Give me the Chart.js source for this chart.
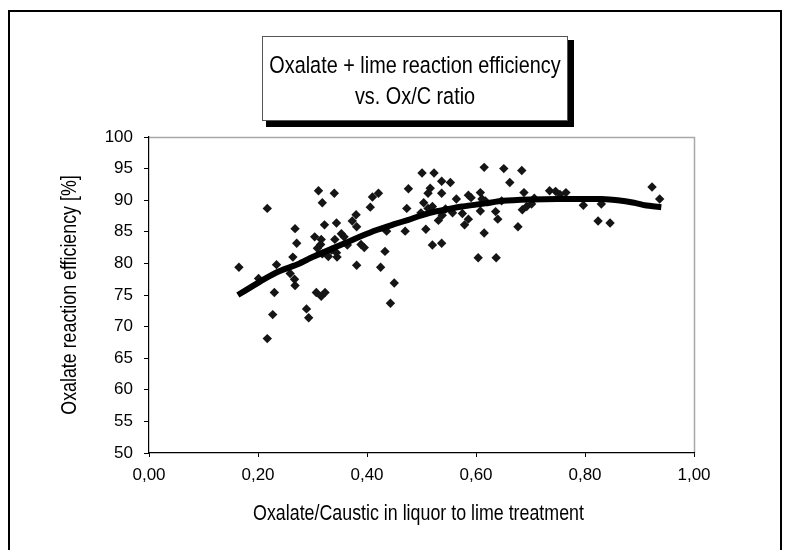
<!DOCTYPE html>
<html>
<head>
<meta charset="utf-8">
<script src="https://cdn.jsdelivr.net/npm/chart.js@4.4.1/dist/chart.umd.min.js"></script>
<style>
  html, body { margin: 0; padding: 0; background: #fff; }
  #wrap { width: 790px; height: 550px; }
</style>
</head>
<body>
<div id="wrap"><canvas id="chart" width="790" height="550"></canvas></div>
<script>
const titleLines = ['Oxalate + lime reaction efficiency', 'vs. Ox/C ratio']
const xTitle = 'Oxalate/Caustic in liquor to lime treatment'
const yTitle = 'Oxalate reaction efficiency [%]'

// measured points: Ox/C ratio and reaction efficiency [%]
const ratioX = [
    0.165, 0.201, 0.217, 0.217, 0.227, 0.230, 0.234, 0.259, 0.264, 0.268,
    0.271, 0.267, 0.268, 0.289, 0.293, 0.304, 0.311, 0.318, 0.307, 0.316,
    0.323, 0.309, 0.315, 0.316, 0.322, 0.318, 0.329, 0.335, 0.340, 0.344,
    0.341, 0.345, 0.344, 0.353, 0.358, 0.364, 0.373, 0.380, 0.381, 0.381,
    0.389, 0.395, 0.406, 0.410, 0.421, 0.425, 0.433, 0.436, 0.443, 0.450,
    0.470, 0.473, 0.476, 0.501, 0.504, 0.508, 0.499, 0.512, 0.516, 0.512,
    0.520, 0.520, 0.523, 0.531, 0.537, 0.537, 0.537, 0.538, 0.544, 0.553,
    0.557, 0.564, 0.575, 0.579, 0.586, 0.586, 0.591, 0.604, 0.608, 0.608,
    0.611, 0.615, 0.615, 0.617, 0.636, 0.640, 0.637, 0.647, 0.651, 0.662,
    0.677, 0.684, 0.688, 0.685, 0.693, 0.702, 0.707, 0.735, 0.746, 0.754,
    0.765, 0.797, 0.824, 0.830, 0.846, 0.923, 0.937
]
const efficiency = [
    79.4, 77.6, 88.7, 68.1, 71.9, 75.4, 79.8, 78.4, 81.0, 85.5,
    83.2, 77.5, 76.5, 72.8, 71.4, 84.2, 91.5, 89.6, 75.4, 74.8,
    75.4, 82.4, 83.0, 83.8, 86.1, 81.5, 81.1, 82.1, 91.1, 86.4,
    83.8, 81.0, 81.7, 84.7, 84.2, 82.9, 86.7, 87.7, 85.8, 79.7,
    83.0, 82.5, 88.9, 90.5, 91.1, 79.4, 81.9, 85.1, 73.7, 76.9,
    85.1, 88.7, 91.8, 94.3, 89.6, 85.4, 88.0, 91.1, 91.9, 88.7,
    89.0, 82.9, 94.3, 86.8, 93.0, 91.1, 83.2, 87.6, 88.6, 92.8,
    88.0, 90.2, 87.9, 86.1, 87.0, 90.8, 90.4, 80.9, 91.2, 88.3,
    90.2, 95.2, 84.8, 89.9, 88.2, 87.0, 80.9, 89.9, 95.0, 92.8,
    85.8, 94.7, 91.2, 88.5, 89.0, 89.4, 90.3, 91.5, 91.4, 90.9,
    91.2, 89.2, 86.7, 89.4, 86.4, 92.1, 90.2
]

// trend line (moving average)
const trendX = [0.163, 0.19, 0.213, 0.24, 0.274, 0.30, 0.335, 0.37, 0.415, 0.45, 0.476, 0.50, 0.525,
    0.55, 0.574, 0.60, 0.617, 0.65, 0.70, 0.75, 0.80, 0.83, 0.86, 0.89, 0.91, 0.94]
const trendY = [75.0, 76.4, 77.6, 78.8, 79.9, 81.0, 82.3, 83.6, 85.2, 86.2, 86.9, 87.6, 88.2,
    88.6, 89.0, 89.3, 89.5, 89.9, 90.1, 90.2, 90.2, 90.2, 90.0, 89.6, 89.2, 88.9]

const xTicks = [0, 0.2, 0.4, 0.6, 0.8, 1.0]

const FONT = '"Liberation Sans", Arial, sans-serif'

function squeezedText(ctx, text, x, y, size, sq, rot) {
    ctx.save()
    ctx.translate(x, y)
    if (rot) ctx.rotate(rot)
    ctx.scale(sq, 1)
    ctx.font = size + 'px ' + FONT
    ctx.textAlign = 'center'
    ctx.textBaseline = 'middle'
    ctx.fillStyle = '#000'
    ctx.fillText(text, 0, 0)
    ctx.restore()
}

const decor = {
    id: 'decor',
    beforeDraw(chart) {
        const ctx = chart.ctx
        const a = chart.chartArea
        ctx.save()
        ctx.fillStyle = '#fff'
        ctx.fillRect(0, 0, chart.width, chart.height)

        // outer frame
        ctx.strokeStyle = '#000'
        ctx.lineWidth = 2
        ctx.strokeRect(9, 11, 772, 560)

        // grey top / right border of plot
        ctx.strokeStyle = '#a8a8a8'
        ctx.lineWidth = 1.5
        ctx.beginPath()
        ctx.moveTo(a.left, a.top + 0.5)
        ctx.lineTo(a.right + 0.5, a.top + 0.5)
        ctx.lineTo(a.right + 0.5, a.bottom)
        ctx.stroke()

        // title box with shadow
        ctx.fillStyle = '#000'
        ctx.fillRect(266, 40, 308, 87)
        ctx.fillStyle = '#fff'
        ctx.fillRect(262, 36, 306, 85)
        ctx.strokeStyle = '#555'
        ctx.lineWidth = 1
        ctx.strokeRect(262.5, 36.5, 305, 84)
        ctx.restore()

        squeezedText(ctx, titleLines[0], 415, 66, 24.5, 0.81)
        squeezedText(ctx, titleLines[1], 415, 97, 24.5, 0.81)
        squeezedText(ctx, xTitle, (a.left + a.right) / 2 - 3, 514, 22, 0.81)
        squeezedText(ctx, yTitle, 70, (a.top + a.bottom) / 2, 22, 0.81, -Math.PI / 2)
    }
}

const points = ratioX.map((x, i) => ({ x: x, y: efficiency[i] }))
const trend = trendX.map((x, i) => ({ x: x, y: trendY[i] }))

new Chart(document.getElementById('chart'), {
    type: 'scatter',
    data: {
        datasets: [
            {
                type: 'line',
                data: trend,
                borderColor: '#000',
                borderWidth: 6,
                pointRadius: 0,
                tension: 0.2,
                fill: false,
                order: 0
            },
            {
                data: points,
                pointStyle: 'rectRot',
                pointRadius: 4.7,
                backgroundColor: '#151515',
                borderWidth: 0,
                order: 1
            }
        ]
    },
    options: {
        responsive: false,
        animation: false,
        devicePixelRatio: 1,
        layout: { padding: { left: 0, top: 137, right: 96, bottom: 0 } },
        plugins: {
            legend: { display: false },
            tooltip: { enabled: false }
        },
        scales: {
            x: {
                type: 'linear',
                min: 0,
                max: 1,
                afterBuildTicks: s => { s.ticks = xTicks.map(v => ({ value: v })) },
                afterFit: s => { s.height = 97 },
                grid: { drawOnChartArea: false, tickLength: 4, color: '#000' },
                border: { color: '#000', width: 1.2 },
                ticks: {
                    color: '#000',
                    padding: 8,
                    font: { family: FONT, size: 17 },
                    callback: v => v.toFixed(2).replace('.', ',')
                }
            },
            y: {
                min: 50,
                max: 100,
                afterFit: s => { s.width = 149 },
                grid: { drawOnChartArea: false, tickLength: 5, color: '#000' },
                border: { color: '#000', width: 1.2 },
                ticks: {
                    stepSize: 5,
                    color: '#000',
                    padding: 11,
                    font: { family: FONT, size: 17 }
                }
            }
        }
    },
    plugins: [decor]
})
</script>
</body>
</html>
